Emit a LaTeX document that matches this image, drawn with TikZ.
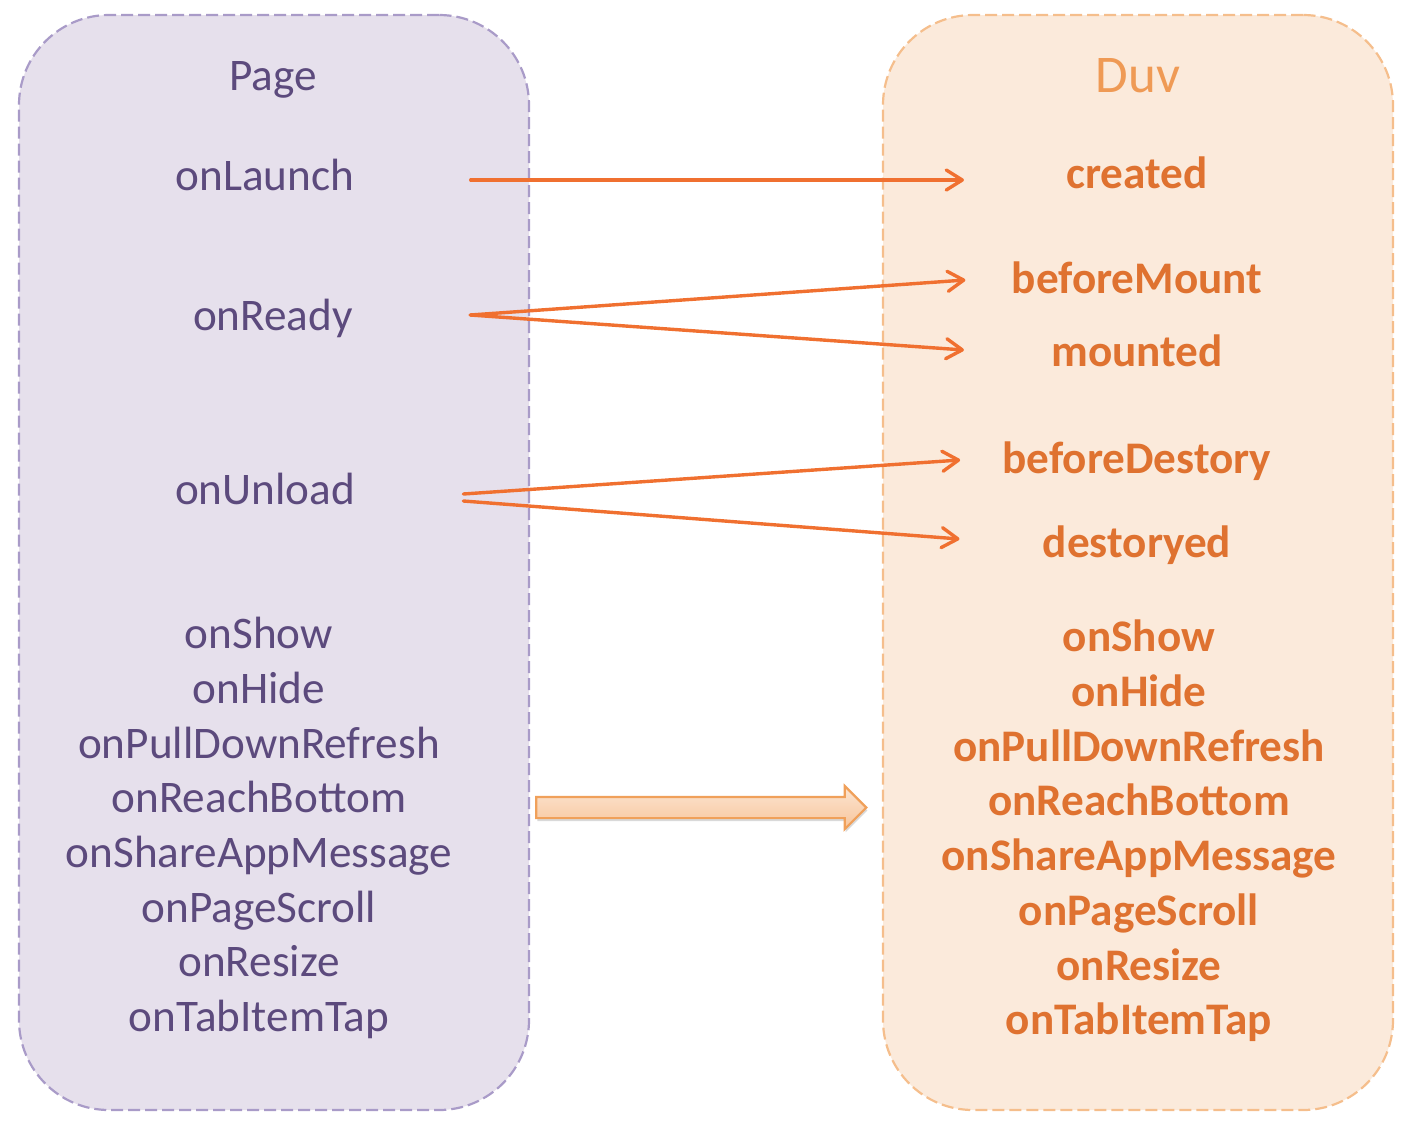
\documentclass[tikz,border=0pt]{standalone}
\usepackage{fontspec}
\setmainfont{Carlito}
\usetikzlibrary{positioning, arrows.meta, shapes.arrows, shadows}
\definecolor{pageFill}{HTML}{E6E0EC}
\definecolor{pageLine}{HTML}{A99BC8}
\definecolor{pageText}{HTML}{5C4A7D}
\definecolor{duvFill}{HTML}{FBEADB}
\definecolor{duvLine}{HTML}{F5BE8C}
\definecolor{duvTitle}{HTML}{EF9A55}
\definecolor{duvText}{HTML}{DF7230}
\definecolor{linkOrange}{HTML}{F07030}
\definecolor{arrowTop}{HTML}{FCE5D2}
\definecolor{arrowBottom}{HTML}{F7C59B}
\definecolor{arrowLine}{HTML}{F0A05A}

\begin{document}
\begin{tikzpicture}[
  x=0.5pt, y=-0.5pt,
  panel/.style={rounded corners=45pt, dash pattern=on 6pt off 2.5pt,
                line width=1.1pt, minimum width=255pt, minimum height=547.5pt,
                inner sep=0pt},
  pagetxt/.style={text=pageText, font=\fontsize{22.6}{27.35}\selectfont,
                  align=center, inner sep=0pt},
  duvtxt/.style={text=duvText, font=\bfseries\fontsize{22.6}{27.35}\selectfont,
                 align=center, inner sep=0pt},
  link/.style={draw=linkOrange, line width=1.7pt, line cap=round,
               -{Straight Barb[length=8pt, width=10pt, line cap=round, line join=round]}},
  bigarrow/.style={single arrow, draw=arrowLine, line width=1.1pt,
                   top color=arrowTop, bottom color=arrowBottom,
                   inner xsep=0pt, inner ysep=4.75pt, minimum height=165pt,
                   single arrow head extend=5.5pt,
                   drop shadow={shadow xshift=0.5pt, shadow yshift=-1.5pt,
                                opacity=0.25, fill=black!60}},
]
  \useasboundingbox (0,0) rectangle (1410,1126);

  % Panels
  \node[panel, fill=pageFill, draw=pageLine] (pagebox) at (274,562.5) {};
  \node[panel, fill=duvFill, draw=duvLine] (duvbox) at (1138,562.5) {};

  % Titles
  \node[pagetxt] (pagetitle) at (273,80) {Page};
  \node[text=duvTitle, font=\fontsize{26.5}{30}\selectfont, inner sep=0pt]
    (duvtitle) at (1138,76) {Duv};

  % Page hooks
  \node[pagetxt] (launch) at (265,175) {onLaunch};
  \node[pagetxt] (ready) at (273,318) {onReady};
  \node[pagetxt] (unload) at (265,489) {onUnload};
  \node[pagetxt] (pagelist) at (259,828) {
    onShow\\onHide\\onPullDownRefresh\\onReachBottom\\
    onShareAppMessage\\onPageScroll\\onResize\\onTabItemTap
  };

  % Duv hooks
  \node[duvtxt] (created) at (1137,173) {created};
  \node[duvtxt] (bmount) at (1137,278) {beforeMount};
  \node[duvtxt] (mounted) at (1137,351) {mounted};
  \node[duvtxt] (bdestroy) at (1137,461) {beforeDestory};
  \node[duvtxt] (destroyed) at (1137,545) {destoryed};
  \node[duvtxt] (duvlist) at (1139,831) {
    onShow\\onHide\\onPullDownRefresh\\onReachBottom\\
    onShareAppMessage\\onPageScroll\\onResize\\onTabItemTap
  };

  % Mappings
  \draw[link] ([xshift=58pt, yshift=-2.5pt]launch.east)
    -- ([xshift=-51pt, yshift=-3.5pt]created.west);
  \draw[link] ([xshift=58.5pt, yshift=1.5pt]ready.east)
    -- ([xshift=-23pt, yshift=-1pt]bmount.west);
  \draw[link] ([xshift=58.5pt, yshift=1.5pt]ready.east)
    -- ([xshift=-43.5pt, yshift=0.5pt]mounted.west);
  \draw[link] ([xshift=54pt, yshift=-2.5pt]unload.east)
    -- ([xshift=-21pt, yshift=0.5pt]bdestroy.west);
  \draw[link] ([xshift=54pt, yshift=-6pt]unload.east)
    -- ([xshift=-41.5pt, yshift=3pt]destroyed.west);

  % Same hooks
  \node[bigarrow] (samehooks) at (696,807.5) {};
\end{tikzpicture}
\end{document}
